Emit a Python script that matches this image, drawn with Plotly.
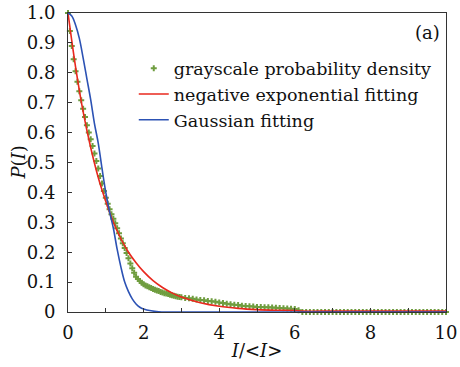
import plotly.graph_objects as go

# ---- data ----
gray_x = [0.00, 0.05, 0.10, 0.15, 0.20, 0.25, 0.30, 0.35, 0.40, 0.45,
          0.50, 0.55, 0.60, 0.65, 0.70, 0.75, 0.80, 0.85, 0.90, 0.95,
          1.00, 1.05, 1.10, 1.15, 1.20, 1.25, 1.30, 1.35, 1.40, 1.45,
          1.50, 1.55, 1.60, 1.65, 1.70, 1.75, 1.80, 1.85, 1.90, 1.95,
          2.00, 2.05, 2.10, 2.15, 2.20, 2.25, 2.30, 2.35, 2.40, 2.45,
          2.50, 2.55, 2.60, 2.65, 2.70, 2.75, 2.80, 2.85, 2.90, 2.95,
          3.00, 3.10, 3.20, 3.30, 3.40, 3.50, 3.60, 3.70, 3.80, 3.90,
          4.00, 4.10, 4.20, 4.30, 4.40, 4.50, 4.60, 4.70, 4.80, 4.90,
          5.00, 5.10, 5.20, 5.30, 5.40, 5.50, 5.60, 5.70, 5.80, 5.90,
          6.00, 6.10, 6.20, 6.30, 6.40, 6.50, 6.60, 6.70, 6.80, 6.90,
          7.00, 7.10, 7.20, 7.30, 7.40, 7.50, 7.60, 7.70, 7.80, 7.90,
          8.00, 8.10, 8.20, 8.30, 8.40, 8.50, 8.60, 8.70, 8.80, 8.90,
          9.00, 9.10, 9.20, 9.30, 9.40, 9.50, 9.60, 9.70, 9.80, 9.90, 10.0]
gray_y = [1.000, 0.940, 0.890, 0.845, 0.805, 0.770, 0.738, 0.708, 0.680, 0.652,
          0.625, 0.600, 0.578, 0.555, 0.530, 0.505, 0.480, 0.455, 0.430, 0.405,
          0.382, 0.362, 0.344, 0.327, 0.312, 0.297, 0.280, 0.263, 0.246, 0.230,
          0.214, 0.197, 0.180, 0.162, 0.146, 0.131, 0.118, 0.110, 0.104, 0.098,
          0.093, 0.089, 0.086, 0.083, 0.080, 0.077, 0.074, 0.072, 0.070, 0.067,
          0.065, 0.063, 0.062, 0.060, 0.058, 0.056, 0.054, 0.053, 0.051, 0.050,
          0.049, 0.047, 0.046, 0.044, 0.042, 0.040, 0.039, 0.037, 0.036, 0.034,
          0.032, 0.030, 0.028, 0.026, 0.024, 0.023, 0.021, 0.020, 0.019, 0.018,
          0.017, 0.0165, 0.016, 0.0155, 0.015, 0.014, 0.013, 0.0125, 0.012, 0.011,
          0.010, 0.006, 0.0, 0.0, 0.0, 0.0, 0.0, 0.0, 0.0, 0.0,
          0.0, 0.0, 0.0, 0.0, 0.0, 0.0, 0.0, 0.0, 0.0, 0.0,
          0.0, 0.0, 0.0, 0.0, 0.0, 0.0, 0.0, 0.0, 0.0, 0.0,
          0.0, 0.0, 0.0, 0.0, 0.0, 0.0, 0.0, 0.0, 0.0, 0.0, 0.0]

negexp_x = [0.0, 0.2, 0.4, 0.6, 0.8, 1.0, 1.2, 1.4, 1.6, 1.8, 2.0, 2.25, 2.5,
            2.75, 3.0, 3.5, 4.0, 4.5, 5.0, 5.5, 6.0, 6.2, 7.0, 8.0, 9.0, 10.0]
negexp_y = [1.0, 0.82, 0.67, 0.55, 0.45, 0.37, 0.30, 0.245, 0.20, 0.165, 0.135,
            0.105, 0.082, 0.064, 0.050, 0.031, 0.019, 0.012, 0.008, 0.006, 0.005,
            0.003, 0.003, 0.003, 0.003, 0.003]

gauss_x = [0.0, 0.1, 0.2, 0.3, 0.4, 0.5, 0.6, 0.7, 0.8, 0.9, 1.0, 1.1, 1.2,
           1.3, 1.4, 1.5, 1.6, 1.7, 1.8, 1.9, 2.0, 2.2, 2.4, 2.6, 10.0]
gauss_y = [1.0, 0.99, 0.96, 0.915, 0.85, 0.78, 0.71, 0.63, 0.565, 0.48, 0.40,
           0.335, 0.28, 0.21, 0.15, 0.10, 0.068, 0.044, 0.027, 0.016, 0.010,
           0.004, 0.001, 0.0, 0.0]

y_ticks = [0, 0.1, 0.2, 0.3, 0.4, 0.5, 0.6, 0.7, 0.8, 0.9, 1.0]
y_tick_text = ["0", "0.1", "0.2", "0.3", "0.4", "0.5", "0.6", "0.7", "0.8", "0.9", "1.0"]
x_ticks = [0, 1, 2, 3, 4, 5, 6, 7, 8, 9, 10]
x_tick_text = ["0", "", "2", "", "4", "", "6", "", "8", "", "10"]

FONT = "DejaVu Serif"

fig = go.Figure()
fig.add_trace(go.Scatter(
    x=gray_x, y=gray_y, mode="markers", name="grayscale probability density",
    marker=dict(symbol="cross", size=5, color="#6f9d3f", line=dict(width=0)),
    cliponaxis=False))
fig.add_trace(go.Scatter(
    x=negexp_x, y=negexp_y, mode="lines", name="negative exponential fitting",
    line=dict(color="#e8281e", width=1.6, shape="spline"), cliponaxis=False))
fig.add_trace(go.Scatter(
    x=gauss_x, y=gauss_y, mode="lines", name="Gaussian fitting",
    line=dict(color="#2c52b4", width=1.6, shape="spline"), cliponaxis=False))

fig.update_layout(
    width=460, height=367,
    margin=dict(l=68, r=14, t=13, b=55, autoexpand=False),
    paper_bgcolor="white", plot_bgcolor="white",
    font=dict(family=FONT, size=18, color="#111"),
    showlegend=True,
    legend=dict(x=0.174, y=0.875, xanchor="left", yanchor="top",
                bgcolor="rgba(0,0,0,0)", font=dict(family=FONT, size=17.5),
                tracegroupgap=0, itemwidth=30),
    annotations=[
        dict(text="(a)", x=0.99, y=0.935, xref="paper", yref="paper",
             xanchor="right", yanchor="middle", showarrow=False,
             font=dict(family=FONT, size=18)),
        dict(text="<i>P</i>(<i>I</i>)", x=-0.132, y=0.5, xref="paper", yref="paper",
             xanchor="center", yanchor="middle", textangle=-90, showarrow=False,
             font=dict(family=FONT, size=18)),
    ],
)
fig.update_xaxes(
    range=[0, 10], tickmode="array", tickvals=x_ticks, ticktext=x_tick_text,
    ticks="inside", ticklen=4, tickcolor="#333", showline=True, linecolor="#333",
    linewidth=1, mirror=True, showgrid=False, zeroline=False, automargin=False,
    ticklabelstandoff=4, ticklabeloverflow="allow",
    title=dict(text="<i>I</i>/&lt;<i>I</i>&gt;", font=dict(family=FONT, size=18), standoff=2))
fig.update_yaxes(
    range=[0, 1.0], tickmode="array", tickvals=y_ticks, ticktext=y_tick_text,
    ticks="inside", ticklen=4, tickcolor="#333", showline=True, linecolor="#333",
    linewidth=1, mirror=True, showgrid=False, zeroline=False, automargin=False,
    ticklabelstandoff=8, ticklabeloverflow="allow")

fig.write_html("out.html", config={"displayModeBar": False},
               post_script="document.body.style.margin='0';document.body.style.overflow='hidden';")
